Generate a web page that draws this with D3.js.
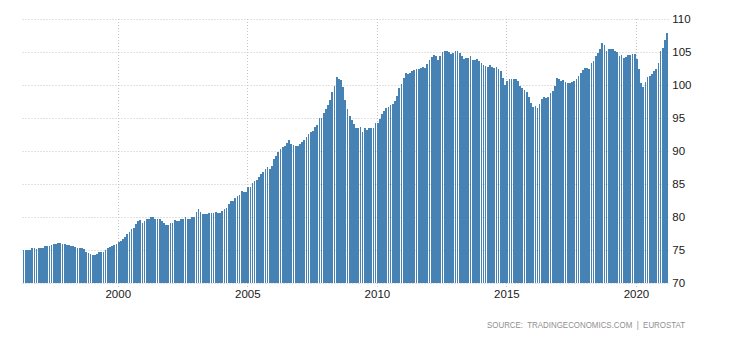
<!DOCTYPE html>
<html>
<head>
<meta charset="utf-8">
<script src="https://cdn.jsdelivr.net/npm/d3@7"></script>
<style>
  html, body { margin: 0; padding: 0; background: #fff; }
  svg { display: block; }
</style>
</head>
<body>
<svg id="chart" width="730" height="340"></svg>
<script>
// ---- data (monthly, May 1996 .. Mar 2021) ----
const startYear = 1996;
const startMonthIndex = 4; // May
const values = [
  75.05, 75.05, 75.05, 75.05, 75.3, 75.3, 75.2, 75.3, 75.3, 75.3,
  75.6, 75.65, 75.65, 75.8, 75.95, 75.95, 76.1, 76.1, 76.0, 75.95,
  75.8, 75.75, 75.6, 75.6, 75.5, 75.4, 75.35, 75.3, 75.15, 74.8,
  74.55, 74.4, 74.3, 74.3, 74.4, 74.7, 74.7, 74.75, 75.1, 75.4,
  75.5, 75.65, 75.85, 76.0,
  76.25, 76.4, 76.7, 77.0, 77.4, 77.8, 78.2, 78.3, 79.0, 79.5,
  79.6, 79.2, 79.4, 79.75, 79.75, 80.05, 80.05, 79.8, 79.75, 79.75,
  79.5, 79.1, 78.85, 78.85, 79.15, 79.2, 79.55, 79.5, 79.5, 79.7,
  79.75, 80.0, 79.8, 79.8, 80.05, 80.1, 80.8, 81.2, 80.8, 80.5,
  80.5, 80.5, 80.6, 80.6, 80.6, 80.75, 80.7, 80.7, 80.95, 81.3,
  81.4, 82.0, 82.4, 82.4, 82.9, 83.2, 83.3, 84.0, 83.8, 83.8,
  84.55, 84.6, 85.15, 85.45, 85.65, 86.15, 86.5, 86.9, 87.3, 87.6,
  87.3, 87.7, 88.8, 89.3, 89.8, 90.35, 90.7, 90.85, 91.3, 91.7,
  91.1, 90.95, 90.85, 90.85, 91.1, 91.4, 91.7, 92.1, 92.6, 92.9,
  93.0, 93.6, 94.0, 94.95, 95.0, 95.8, 96.4, 97.0, 97.7, 99.0,
  99.9, 101.25, 100.85, 100.7, 99.75, 97.8, 96.4, 95.35, 94.75, 94.15,
  93.45, 93.45, 93.65, 92.95, 93.5, 93.25, 93.45, 93.5, 93.55, 94.2,
  94.25, 94.9, 95.65, 96.1, 96.5, 96.75, 97.0, 97.2, 97.6, 98.3,
  99.5, 100.2, 101.0, 101.8, 101.7, 101.8, 102.1, 102.3, 102.4, 102.5,
  102.6, 102.7, 102.6, 103.2, 103.8, 104.2, 104.6, 104.35, 103.8, 104.35,
  105.0, 105.2, 105.2, 105.0, 104.75, 104.9, 105.2, 105.15, 104.85, 104.35,
  104.0, 104.05, 104.15, 104.35, 103.8, 103.75, 104.0, 103.7, 103.35, 103.05,
  102.95, 102.8, 103.05, 102.75, 102.65, 102.8, 102.5, 102.2, 101.1, 100.05,
  100.55, 100.85, 100.85, 100.85, 100.85, 100.65, 99.9, 99.6, 99.3, 99.0,
  98.2, 97.3, 96.7, 96.9, 96.6, 97.2, 97.9, 98.2, 98.05, 98.2,
  98.8, 99.1, 99.9, 101.0, 100.85, 100.55, 100.7, 100.4, 100.25, 100.25,
  100.4, 100.55, 100.85, 101.3, 101.85, 102.3, 102.6, 102.6, 102.5, 103.4,
  103.7, 104.4, 104.9, 105.5, 106.4, 106.1, 105.2, 105.5, 105.5, 105.5,
  105.2, 105.05, 104.4, 104.6, 104.1, 104.25, 104.6, 104.6, 104.7, 104.7,
  104.0, 102.5, 100.35, 99.75, 100.5, 101.25, 101.4, 101.7, 102.15, 102.45,
  103.3, 105.2, 105.65, 106.85, 107.9
];
const yTicks = [70, 75, 80, 85, 90, 95, 100, 105, 110];
const xTickYears = [2000, 2005, 2010, 2015, 2020];
const sourceLabel = "SOURCE:  TRADINGECONOMICS.COM  |  EUROSTAT";

// ---- layout ----
const plotLeft = 22.7, plotRight = 668.3, plotTop = 19, plotBottom = 283.3;
const barColor = "#4682b4";
const gridColor = "#c4c4c4";
const fontFamily = "'Liberation Sans', Arial, sans-serif";

const svg = d3.select("#chart");
const start = new Date(startYear, startMonthIndex, 1);
const dates = values.map((v, i) => d3.timeMonth.offset(start, i));
const end = d3.timeMonth.offset(start, values.length);

const x = d3.scaleTime().domain([start, end]).range([plotLeft, plotRight]);
const y = d3.scaleLinear().domain([70, 110]).range([plotBottom, plotTop]);

// gridlines
const grid = svg.append("g").attr("class", "grid");
grid.selectAll("line.h").data(yTicks).enter().append("line")
  .attr("x1", Math.round(plotLeft) - 0.5).attr("x2", Math.round(plotRight) + 0.5)
  .attr("y1", d => Math.round(y(d)) + 0.5).attr("y2", d => Math.round(y(d)) + 0.5)
  .attr("stroke", gridColor).attr("stroke-width", 1).attr("stroke-dasharray", "1,2");
grid.selectAll("line.v").data(xTickYears).enter().append("line")
  .attr("x1", d => Math.round(x(new Date(d, 0, 1))) + 0.5)
  .attr("x2", d => Math.round(x(new Date(d, 0, 1))) + 0.5)
  .attr("y1", plotTop).attr("y2", plotBottom + 4)
  .attr("stroke", gridColor).attr("stroke-width", 1).attr("stroke-dasharray", "1,2");

// bars
svg.append("g").selectAll("rect").data(values).enter().append("rect")
  .attr("x", (d, i) => Math.round(x(dates[i])))
  .attr("width", (d, i) => {
    const x0 = x(dates[i]);
    const x1 = x(d3.timeMonth.offset(dates[i], 1));
    return Math.max(1, Math.round(x0 + (x1 - x0) * 0.8) - Math.round(x0));
  })
  .attr("y", d => Math.round(y(d)))
  .attr("height", d => Math.round(plotBottom) - Math.round(y(d)))
  .attr("fill", barColor)
  .attr("shape-rendering", "crispEdges");

// y axis (right)
const yAxis = svg.append("g")
  .attr("transform", `translate(${plotRight},0)`)
  .call(d3.axisRight(y).tickValues(yTicks).tickSize(0).tickPadding(4).tickFormat(d3.format("d")));
yAxis.select(".domain").remove();
yAxis.selectAll("text").attr("font-family", fontFamily).attr("font-size", "11.5px").attr("fill", "#1a1a1a");

// x axis (bottom)
const xAxis = svg.append("g")
  .attr("transform", `translate(0,${plotBottom})`)
  .call(d3.axisBottom(x).tickValues(xTickYears.map(yr => new Date(yr, 0, 1)))
    .tickSize(0).tickPadding(7).tickFormat(d3.timeFormat("%Y")));
xAxis.select(".domain").remove();
xAxis.selectAll("text").attr("font-family", fontFamily).attr("font-size", "11.5px").attr("fill", "#1a1a1a");

// source
svg.append("text")
  .attr("x", 685).attr("y", 328)
  .attr("text-anchor", "end")
  .attr("font-family", fontFamily)
  .attr("font-size", "9px")
  .attr("fill", "#8f8f8f")
  .attr("textLength", 198)
  .attr("lengthAdjust", "spacingAndGlyphs")
  .style("white-space", "pre")
  .text(sourceLabel);
</script>
</body>
</html>
